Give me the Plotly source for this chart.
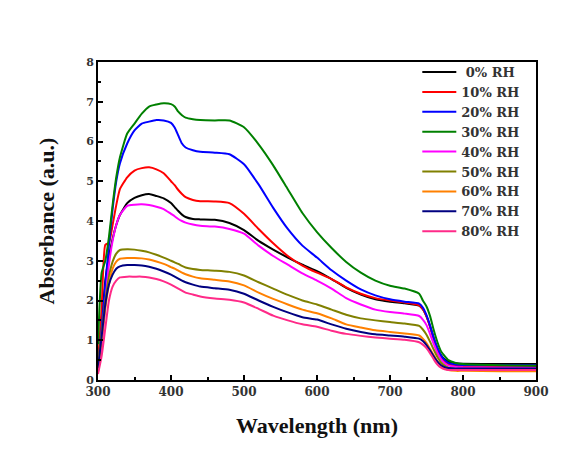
import plotly.graph_objects as go

wavelength = [300, 305, 310, 315, 320, 325, 330, 340, 350, 360, 370, 380, 390, 400, 405, 410, 415,
              420, 430, 440, 460, 480, 500, 520, 540, 560, 580, 600, 620, 640, 660, 680, 700, 720,
              740, 745, 750, 755, 760, 765, 770, 775, 780, 790, 800, 850, 900]

rh_0 = [0.30, 1.40, 2.50, 3.10, 3.55, 3.90, 4.15, 4.45, 4.58, 4.65, 4.68, 4.63, 4.57, 4.45, 4.35, 4.25, 4.16,
        4.10, 4.05, 4.04, 4.03, 3.95, 3.77, 3.50, 3.28, 3.08, 2.90, 2.74, 2.54, 2.32, 2.15, 2.03, 1.97, 1.93,
        1.87, 1.78, 1.60, 1.35, 1.05, 0.80, 0.62, 0.52, 0.46, 0.42, 0.41, 0.40, 0.40]
rh_10 = [0.40, 1.80, 3.40, 3.45, 3.90, 4.40, 4.80, 5.10, 5.27, 5.33, 5.35, 5.30, 5.20, 5.00, 4.90, 4.78, 4.68,
         4.60, 4.53, 4.50, 4.49, 4.45, 4.18, 3.80, 3.44, 3.12, 2.88, 2.70, 2.54, 2.33, 2.17, 2.06, 2.00, 1.95,
         1.88, 1.78, 1.60, 1.33, 1.02, 0.77, 0.58, 0.47, 0.40, 0.36, 0.35, 0.34, 0.33]
rh_20 = [0.30, 1.30, 2.40, 3.40, 4.30, 5.00, 5.45, 5.95, 6.28, 6.45, 6.50, 6.54, 6.53, 6.47, 6.35, 6.15, 5.95,
         5.85, 5.78, 5.74, 5.72, 5.68, 5.43, 4.92, 4.33, 3.80, 3.38, 3.08, 2.76, 2.50, 2.28, 2.13, 2.03, 1.97,
         1.92, 1.82, 1.63, 1.36, 1.05, 0.80, 0.61, 0.50, 0.43, 0.39, 0.38, 0.37, 0.37]
rh_30 = [0.90, 2.70, 3.00, 3.60, 4.40, 5.10, 5.60, 6.20, 6.45, 6.70, 6.88, 6.93, 6.96, 6.94, 6.88, 6.75, 6.66,
         6.60, 6.56, 6.54, 6.53, 6.53, 6.36, 5.93, 5.40, 4.80, 4.20, 3.72, 3.32, 2.97, 2.70, 2.50, 2.37, 2.30,
         2.17, 2.00, 1.85, 1.60, 1.25, 0.95, 0.72, 0.60, 0.50, 0.43, 0.40, 0.37, 0.36]
rh_40 = [0.20, 0.80, 1.90, 2.90, 3.50, 3.90, 4.15, 4.38, 4.41, 4.42, 4.40, 4.36, 4.30, 4.18, 4.12, 4.05, 4.00,
         3.96, 3.91, 3.88, 3.86, 3.80, 3.68, 3.38, 3.12, 2.90, 2.68, 2.50, 2.30, 2.06, 1.90, 1.77, 1.71, 1.67,
         1.61, 1.52, 1.38, 1.15, 0.90, 0.68, 0.52, 0.42, 0.36, 0.33, 0.32, 0.31, 0.30]
rh_50 = [0.40, 1.20, 2.00, 2.60, 2.98, 3.18, 3.27, 3.29, 3.28, 3.25, 3.21, 3.15, 3.08, 3.00, 2.96, 2.92, 2.87,
         2.83, 2.79, 2.77, 2.75, 2.72, 2.63, 2.46, 2.30, 2.14, 2.00, 1.90, 1.77, 1.64, 1.55, 1.50, 1.46, 1.42,
         1.36, 1.27, 1.14, 0.96, 0.76, 0.58, 0.44, 0.36, 0.31, 0.28, 0.27, 0.27, 0.26]
rh_60 = [0.30, 1.00, 1.80, 2.40, 2.80, 2.98, 3.05, 3.07, 3.07, 3.06, 3.03, 2.98, 2.92, 2.84, 2.80, 2.75, 2.70,
         2.66, 2.60, 2.56, 2.52, 2.48, 2.38, 2.20, 2.04, 1.90, 1.77, 1.68, 1.55, 1.40, 1.32, 1.25, 1.21, 1.17,
         1.12, 1.04, 0.93, 0.78, 0.62, 0.47, 0.36, 0.29, 0.25, 0.23, 0.23, 0.22, 0.22]
rh_70 = [0.30, 1.10, 1.90, 2.40, 2.65, 2.80, 2.86, 2.89, 2.89, 2.88, 2.85, 2.80, 2.73, 2.65, 2.60, 2.55, 2.50,
         2.46, 2.40, 2.35, 2.31, 2.27, 2.17, 2.00, 1.84, 1.70, 1.58, 1.52, 1.40, 1.29, 1.21, 1.15, 1.12, 1.09,
         1.04, 0.98, 0.88, 0.74, 0.59, 0.46, 0.37, 0.32, 0.30, 0.29, 0.29, 0.29, 0.29]
rh_80 = [0.15, 0.60, 1.30, 2.00, 2.35, 2.50, 2.58, 2.60, 2.60, 2.60, 2.58, 2.54, 2.48, 2.40, 2.35, 2.30, 2.25,
         2.20, 2.15, 2.10, 2.05, 2.02, 1.95, 1.79, 1.62, 1.50, 1.40, 1.34, 1.24, 1.16, 1.11, 1.07, 1.04, 1.01,
         0.95, 0.89, 0.80, 0.67, 0.52, 0.39, 0.31, 0.27, 0.25, 0.25, 0.25, 0.25, 0.25]

names = ["\u00a00% RH", "10% RH", "20% RH", "30% RH", "40% RH", "50% RH", "60% RH", "70% RH", "80% RH"]
series = [rh_0, rh_10, rh_20, rh_30, rh_40, rh_50, rh_60, rh_70, rh_80]
colors = ["#000000", "#ff0000", "#0000ff", "#008000", "#ff00ff", "#808000", "#ff8000", "#000080", "#ff2a88"]

x_ticks = [300, 400, 500, 600, 700, 800, 900]
y_ticks = [0, 1, 2, 3, 4, 5, 6, 7, 8]

fig = go.Figure()
for n, s, c in zip(names, series, colors):
    fig.add_trace(go.Scatter(x=wavelength, y=s, name=n, mode="lines",
                             line=dict(color=c, width=2, shape="spline", smoothing=0.5)))

title_fam = "Liberation Serif, Times New Roman, serif"
tick_fam = "DejaVu Serif, serif"
axis_common = dict(showline=True, linecolor="#000000", linewidth=2, mirror=True,
                   ticks="inside", ticklen=5, tickwidth=1.5, tickcolor="#000000",
                   showgrid=False, zeroline=False, automargin=False,
                   minor=dict(ticks="inside", ticklen=3, tickwidth=1.5, tickcolor="#000000"))

fig.update_xaxes(range=[300, 900], tickvals=x_ticks, minor_dtick=50,
                 tickfont=dict(family=tick_fam, size=12, color="#333333", weight="bold"),
                 title=dict(text="Wavelength (nm)", standoff=19,
                            font=dict(family=title_fam, size=22, color="#111111", weight="bold")),
                 **axis_common)
fig.update_yaxes(range=[0, 8], tickvals=y_ticks, minor_dtick=0.5,
                 tickfont=dict(family=tick_fam, size=11, color="#333333", weight="bold"),
                 title=dict(text="Absorbance (a.u.)", standoff=25,
                            font=dict(family=title_fam, size=22, color="#111111", weight="bold")),
                 **axis_common)

# the page body adds an 8px offset, so the margins are reduced by 8px on the left and top
fig.update_layout(
    width=582, height=460,
    margin=dict(l=89.5, r=53.5, t=54, b=88, pad=0),
    paper_bgcolor="white", plot_bgcolor="white",
    showlegend=True,
    legend=dict(x=0.729, y=1.0155, xanchor="left", yanchor="top",
                bgcolor="rgba(0,0,0,0)", borderwidth=0,
                font=dict(family=tick_fam, size=13, color="#333333", weight="bold"),
                tracegroupgap=0, itemwidth=34),
)

fig.write_html("out.html")
